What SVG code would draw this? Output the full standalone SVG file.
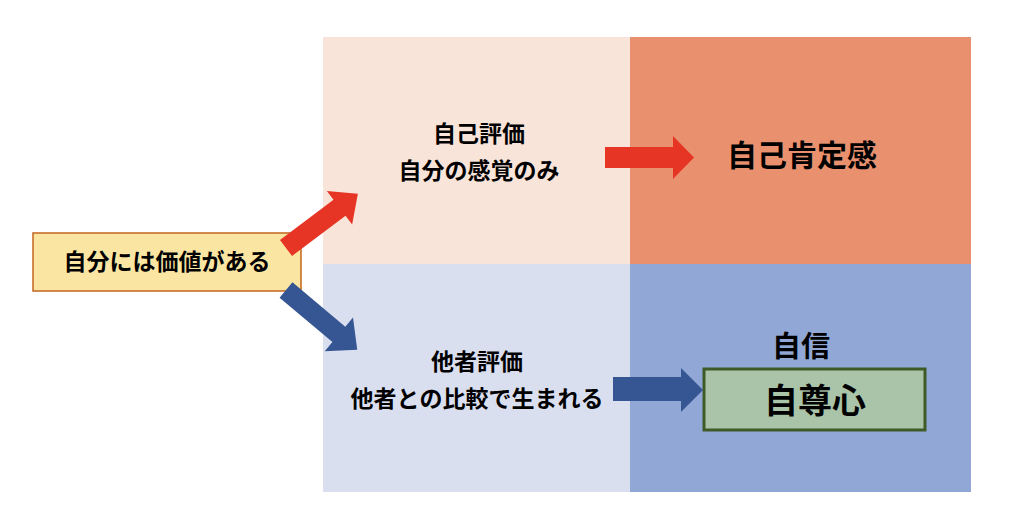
<svg xmlns="http://www.w3.org/2000/svg" width="1024" height="532" viewBox="0 0 1024 532">
<style>
text { font-family: "Noto Sans CJK JP", "Noto Sans", sans-serif; font-weight: bold; fill: #000; text-anchor: middle; }
.m { font-size: 23px; }
</style>
<rect x="0" y="0" width="1024" height="532" fill="#ffffff"/>
<g id="quadrants">
  <rect id="q-tl" x="323" y="37" width="307" height="227" fill="#F8E4D9"/>
  <rect id="q-tr" x="630" y="37" width="341" height="227" fill="#E9906F"/>
  <rect id="q-bl" x="323" y="264" width="307" height="228" fill="#DADFF0"/>
  <rect id="q-br" x="630" y="264" width="341" height="228" fill="#91A8D7"/>
</g>
<g id="node-value">
  <rect x="33" y="233" width="268" height="58" fill="#FBE5A2" stroke="#C5651E" stroke-width="1.5"/>
  <text x="167" y="270" style="font-size:23px">自分には価値がある</text>
</g>
<g id="node-self-eval">
  <text class="m" x="479" y="142">自己評価</text>
  <text class="m" x="479" y="179">自分の感覚のみ</text>
</g>
<g id="node-other-eval">
  <text class="m" x="477" y="370">他者評価</text>
  <text class="m" x="477" y="407">他者との比較で生まれる</text>
</g>
<g id="node-self-affirm">
  <text x="802" y="166" style="font-size:30px">自己肯定感</text>
</g>
<g id="node-confidence">
  <text x="801" y="357" style="font-size:29px">自信</text>
</g>
<g id="node-self-esteem">
  <rect x="704" y="369" width="221" height="61" fill="#A9C4A8" stroke="#3D5A27" stroke-width="3"/>
  <text x="815" y="413" style="font-size:34px">自尊心</text>
</g>
<g id="connectors">
  <polygon fill="#E63524" transform="translate(286,248) rotate(-37)" points="0,-10 67,-10 67,-21 90,0 67,21 67,10 0,10"/>
  <polygon fill="#365693" transform="translate(286,290) rotate(40)" points="0,-10 69,-10 69,-22 93,0 69,22 69,10 0,10"/>
  <polygon fill="#E63524" points="605,147 673,147 673,136 694,157.5 673,179 673,168 605,168"/>
  <polygon fill="#365693" points="613,377 681,377 681,368 703,390 681,412 681,401 613,401"/>
</g>
</svg>
